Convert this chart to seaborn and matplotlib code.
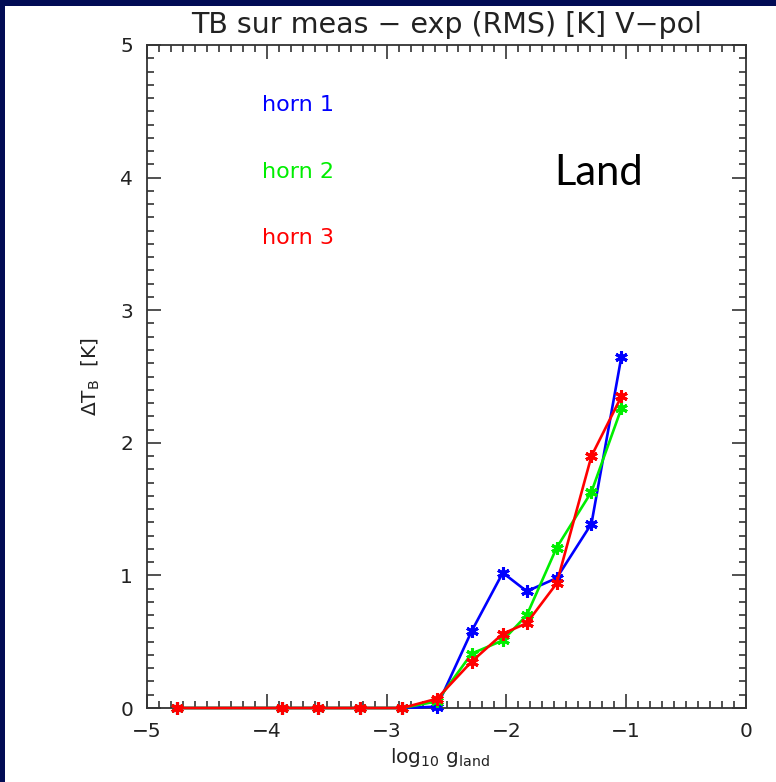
import numpy as np
import pandas as pd
import matplotlib
matplotlib.use("Agg")
import matplotlib.pyplot as plt
import seaborn as sns
from matplotlib.ticker import MultipleLocator
from matplotlib.patches import Rectangle

# ---- data ----
log_g = [-4.75, -3.87, -3.57, -3.22, -2.87, -2.58, -2.29, -2.03, -1.83, -1.58, -1.29, -1.04]
horn1 = [0.0, 0.0, 0.0, 0.0, 0.0, 0.01, 0.58, 1.02, 0.88, 0.98, 1.39, 2.65]
horn2 = [0.0, 0.0, 0.0, 0.0, 0.0, 0.05, 0.41, 0.51, 0.70, 1.21, 1.63, 2.26]
horn3 = [0.0, 0.0, 0.0, 0.0, 0.0, 0.07, 0.35, 0.56, 0.64, 0.94, 1.90, 2.35]
horn_names = ["horn 1", "horn 2", "horn 3"]
horn_colors = ["#0000ff", "#00ee00", "#ff0000"]
x_ticks = [-5, -4, -3, -2, -1, 0]
y_ticks = [0, 1, 2, 3, 4, 5]

sns.set_theme(style="white")
plt.rcParams["font.family"] = ["DejaVu Sans"]
plt.rcParams["mathtext.default"] = "regular"

fig = plt.figure(figsize=(7.76, 7.82), dpi=100, facecolor="white")
navy = "#020c55"
fig.patches.append(Rectangle((0, 0), 5 / 776, 1, transform=fig.transFigure,
                             facecolor=navy, edgecolor="none", zorder=0))
fig.patches.append(Rectangle((0, 1 - 6 / 782), 1, 6 / 782, transform=fig.transFigure,
                             facecolor=navy, edgecolor="none", zorder=0))

ax = fig.add_axes([147 / 776, 74 / 782, 599 / 776, 663 / 782])
ax.set_facecolor("white")

df = pd.DataFrame({"x": log_g * 3,
                   "y": horn1 + horn2 + horn3,
                   "horn": sum([[n] * len(log_g) for n in horn_names], [])})

for name, col in zip(horn_names, horn_colors):
    sub = df[df["horn"] == name]
    sns.lineplot(data=sub, x="x", y="y", ax=ax, color=col, lw=1.9,
                 marker=(6, 2, 0), markersize=9, markeredgewidth=2.2,
                 markeredgecolor=col, markerfacecolor=col, clip_on=False,
                 zorder=3, legend=False)

ax.set_xlim(-5, 0)
ax.set_ylim(0, 5)
ax.set_xticks(x_ticks)
ax.set_yticks(y_ticks)
ax.set_xticklabels([("\u2212%d" % -v) if v < 0 else "%d" % v for v in x_ticks])
ax.set_yticklabels([str(v) for v in y_ticks])
ax.xaxis.set_minor_locator(MultipleLocator(0.1))
ax.yaxis.set_minor_locator(MultipleLocator(0.1))

tc = "#333333"
ax.tick_params(which="both", direction="in", top=True, right=True,
               bottom=True, left=True, color=tc, width=1.2)
ax.tick_params(which="major", length=10, labelsize=14.5, pad=10, labelcolor="#222222")
ax.tick_params(which="minor", length=5)
for s in ax.spines.values():
    s.set_color(tc)
    s.set_linewidth(1.3)

ax.set_xlabel(r"$\mathregular{log_{10}\ g_{land}}$", fontsize=14.5, color="#222222")
ax.set_ylabel(r"$\mathregular{\Delta T_B\ \ [K]}$", fontsize=14.5, color="#222222")
ax.xaxis.set_label_coords(0.49, -0.058)
ax.xaxis.label.set_va("top")
ax.yaxis.set_label_coords(-0.075, 0.50)

ax.set_title("TB sur meas \u2212 exp (RMS) [K] V\u2212pol", fontsize=20.5,
             color="#222222", pad=8.5)

for name, col, yb in zip(horn_names, horn_colors, [4.5, 4.0, 3.5]):
    ax.text(-4.04, yb, name, color=col, fontsize=16, va="baseline", ha="left")

ax.text(-1.6, 3.944, "Land", color="black", fontsize=30, family="Lato",
        va="baseline", ha="left")

fig.savefig("out.png", dpi=100, facecolor="white")
